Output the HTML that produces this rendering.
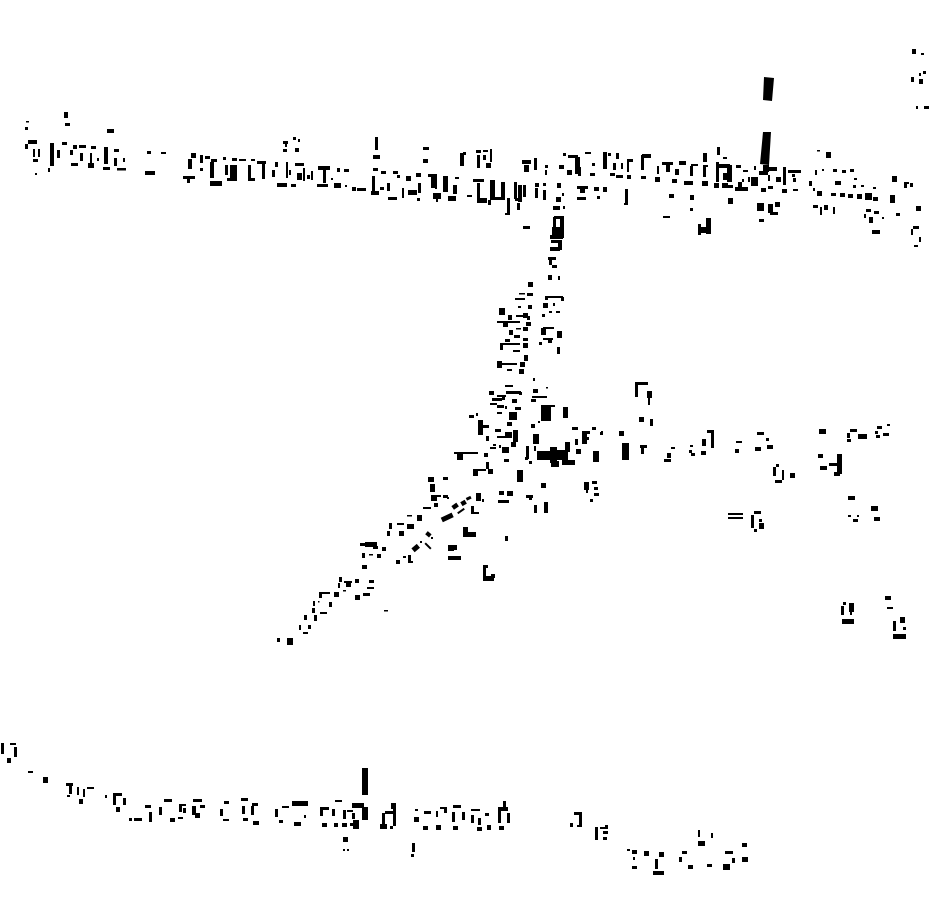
<!DOCTYPE html>
<html><head><meta charset="utf-8"><style>html,body{margin:0;padding:0;background:#fff;width:930px;height:924px;overflow:hidden}svg{display:block}</style></head>
<body><svg width="930" height="924" viewBox="0 0 930 924" xmlns="http://www.w3.org/2000/svg"><rect width="930" height="924" fill="#fff"/>
<path fill="#000" d="
M64 112h4v6h-4zM65 123h5v3h-5zM26 121h3v1.5h-3zM25 127h3v3h-3zM107 129h7v4h-7zM28 140h9v4h-9zM25 144h3v5h-3zM33 149h2v8h-2zM38 149h2v8h-2zM33 159h5v3h-5zM35 173h2v2h-2zM50 143h4v23h-4zM48 168h2v4h-2zM62 142h5v3h-5zM57 150h3v8h-3zM73 145h4v4h-4zM70 150h3v5h-3zM79 145h7v3h-7zM80 153h3v8h-3zM71 163h7v3h-7zM91 146h5v3h-5zM90 153h2v10h-2zM88 163h6v5h-6zM97 158h2v3h-2zM104 147h4v17h-4zM103 167h7v3h-7zM114 149h5v3h-5zM114 158h3v8h-3zM117 168h9v2.5h-9zM123 158h2v4h-2zM147 151h4v3h-4zM161 152h5v2h-5zM145 171h10v4h-10z
M191 153h5v5h-5zM188 159h4v10h-4zM183 176h12v3h-12zM187 179h3v4h-3zM200 155h3v8h-3zM205 156h5v3h-5zM200 168h3v3h-3zM211 159h6v3h-6zM210 162h4v16h-4zM210 181h12v5h-12zM223 157h3v3h-3zM232 158h5v3h-5zM239 159h7v2h-7zM251 159h4v2h-4zM257 161h9v3h-9zM262 163h3v16h-3zM248 178h7v3h-7zM248 165h3v13h-3zM230 165h7v13h-7zM225 165h3v10h-3zM227 178h10v3h-10zM275 162h3v5h-3zM272 170h3v7h-3zM283 141h5v3h-5zM285 144h2v3h-2zM293 137h3v3h-3zM298 139h2v3h-2zM283 149h4v3h-4zM295 148h4v4h-4zM286 162h2v16h-2zM277 183h10v4h-10zM291 184h5v3h-5zM289 170h2v5h-2zM295 163h9v3h-9zM297 173h5v7h-5zM303 168h2v13h-2zM307 175h3v4h-3z
M375 137h3v13h-3zM373 155h7v4h-7zM373 168h5v3h-5zM381 171h5v3h-5zM393 171h5v3h-5zM397 175h3v3h-3zM406 176h5v5h-5zM416 173h5v4h-5zM423 147h6v3h-6zM423 159h5v4h-5zM311 171h2v9h-2zM318 166h12v4h-12zM323 168h3v15h-3zM317 184h11v3h-11zM331 178h2v2h-2zM337 168h3v4h-3zM344 169h5v3h-5zM334 183h7v5h-7zM345 185h2v2h-2zM352 187h4v4h-4zM357 188h9v3h-9zM372 176h3v17h-3zM371 191h8v4h-8zM380 187h4v3h-4zM387 183h3v8h-3zM388 197h9v3h-9zM402 188h2v10h-2zM408 190h9v5h-9zM418 183h3v10h-3zM417 198h3v3h-3zM428 174h9v3h-9zM431 175h4v13h-4zM435 175h2v14h-2zM433 193h8v6h-8zM436 199h2v3h-2zM443 176h5v16h-5zM455 177h4v2h-4zM453 185h4v9h-4zM448 196h8v5h-8zM460 153h4v13h-4zM463 152h3v3h-3zM476 150h5v3h-5zM477 155h3v13h-3zM483 150h5v2h-5zM483 155h3v5h-3zM490 149h2v13h-2zM486 163h5v5h-5zM473 179h11v3h-11zM467 195h5v2h-5zM477 183h3v17h-3zM477 198h10v5h-10zM490 180h5v20h-5zM488 200h3v5h-3zM492 197h13v3h-13zM501 182h4v17h-4zM507 198h3v17h-3zM505 213h5v2h-5zM514 182h3v17h-3zM518 185h4v17h-4zM515 198h7v3h-7zM517 203h3v7h-3zM523 185h3v12h-3zM522 160h9v4h-9zM524 165h5v7h-5zM534 158h3v12h-3zM545 165h3v3h-3zM545 170h2v5h-2zM559 165h5v4h-5zM563 153h3v3h-3zM568 155h10v3h-10zM575 157h5v17h-5zM567 170h5v5h-5zM578 167h3v9h-3zM585 152h6v2h-6zM592 163h3v3h-3zM590 173h5v3h-5zM603 152h4v17h-4zM608 153h3v3h-3zM616 153h3v6h-3zM613 163h3v7h-3zM610 173h5v3h-5zM616 175h4v3h-4zM535 183h4v4h-4zM543 183h3v3h-3zM535 188h3v10h-3zM543 190h3v10h-3zM557 183h4v5h-4zM562 193h2v3h-2zM556 197h5v5h-5zM553 206h7v4h-7zM563 206h2v3h-2zM577 186h11v3h-11zM580 188h5v5h-5zM577 197h9v3h-9zM594 187h5v4h-5zM603 187h4v5h-4zM597 196h3v3h-3zM523 226h7v3h-7zM554 216h10v3h-10zM553 217h3v13h-3zM560 218h4v20h-4zM550 235h13v4h-13zM552 227h9v10h-9z
M912 49h4v5h-4zM921 53h3v2h-3zM923 71h3v3h-3zM919 73h2v3h-2zM911 77h3v5h-3zM919 79h4v5h-4zM916 106h2v3h-2zM924 106h5v3h-5zM627 159h6v3h-6zM627 162h2v10h-2zM621 163h2v6h-2zM620 175h3v3h-3zM627 175h4v4h-4zM642 154h9v4h-9zM641 155h3v15h-3zM641 176h5v3h-5zM662 162h11v3h-11zM657 166h2v8h-2zM666 165h4v7h-4zM675 169h4v6h-4zM679 161h7v4h-7zM655 177h5v5h-5zM672 179h5v4h-5zM691 164h7v2h-7zM690 166h3v10h-3zM684 181h9v4h-9zM703 153h4v9h-4zM703 165h5v2h-5zM703 166h3v11h-3zM702 181h6v5h-6zM717 147h3v8h-3zM723 157h4v2h-4zM716 162h3v20h-3zM717 164h13v4h-13zM727 165h5v17h-5zM723 173h4v7h-4zM714 183h5v5h-5zM722 183h6v5h-6zM728 185h5v3h-5zM736 165h5v3h-5zM743 170h5v2h-5zM754 166h2v4h-2zM735 187h13v4h-13zM738 182h4v6h-4zM742 179h2v3h-2zM748 177h2v5h-2zM751 177h7v9h-7zM763 165h6v7h-6zM768 167h9v4h-9zM759 171h9v4h-9zM768 175h2v6h-2zM776 177h5v5h-5zM783 167h3v18h-3zM788 170h13v3h-13zM792 174h3v3h-3zM793 178h3v4h-3zM761 188h5v4h-5zM768 186h5v3h-5zM782 189h5v4h-5zM793 189h5v2h-5zM625 189h3v15h-3zM624 203h4v2h-4zM669 194h5v4h-5zM690 195h4v5h-4zM690 208h3v3h-3zM663 216h7v2h-7zM728 198h5v6h-5zM757 203h7v8h-7zM768 204h5v9h-5zM770 212h8v3h-8zM775 202h5v5h-5zM759 219h5v3h-5zM706 218h5v16h-5zM698 224h3v11h-3zM699 227h10v6h-10z
M817 150h3v1.5h-3zM826 152h5v6h-5zM815 170h2v5h-2zM822 169h2v2h-2zM833 169h4v3h-4zM842 170h4v3h-4zM850 169h4v3h-4zM854 178h3v2h-3zM835 181h6v4h-6zM853 185h3v3h-3zM861 185h3v2h-3zM873 187h3v2h-3zM809 181h3v5h-3zM813 188h2v3h-2zM817 191h5v5h-5zM831 193h5v3h-5zM840 193h5v4h-5zM848 194h5v4h-5zM857 194h5v5h-5zM865 193h7v7h-7zM873 197h5v4h-5zM892 176h5v6h-5zM904 182h3v6h-3zM905 182h4v2h-4zM910 183h3v4h-3zM890 195h5v8h-5zM916 206h5v5h-5zM813 205h5v3h-5zM820 207h2v8h-2zM824 205h4v5h-4zM833 207h2v7h-2zM866 209h5v3h-5zM874 211h5v3h-5zM864 214h2v4h-2zM869 217h4v6h-4zM882 217h2v2h-2zM896 213h4v3h-4zM872 230h8v4h-8zM913 226h6v3h-6zM911 229h2v6h-2zM919 237h2v5h-2zM914 245h4v2h-4z
M558 240h4v10h-4zM550 247h10v4h-10zM551 240h8v3h-8zM548 257h8v3h-8zM549 260h3v5h-3zM552 265h5v3h-5zM548 275h4v5h-4zM558 276h2v4h-2zM528 282h5v5h-5zM519 293h6v1.5h-6zM527 293h6v3h-6zM515 298h10v2h-10zM518 306h3v2h-3zM528 305h4v4h-4zM499 308h6v7h-6zM523 313h5v5h-5zM516 315h11v2h-11zM527 316h3v4h-3zM497 321h23v2h-23zM503 322h5v5h-5zM508 315h4v5h-4zM526 322h5v4h-5zM516 328h5v1.5h-5zM523 327h5v4h-5zM509 330h4v5h-4zM514 335h6v3h-6zM505 339h5v3h-5zM523 338h5v3h-5zM523 343h5v5h-5zM500 343h3v7h-3zM503 343h17v2h-17zM513 350h7v2h-7zM524 355h4v6h-4zM497 361h5v7h-5zM502 363h15v2h-15zM520 362h5v5h-5zM507 369h5v2h-5zM519 369h5v5h-5zM545 296h18v2h-18zM545 296h3v4h-3zM561 297h3v4h-3zM543 303h5v5h-5zM553 303h2v3h-2zM549 311h3v2h-3zM556 311h4v2h-4zM542 314h3v3h-3zM541 328h5v7h-5zM543 327h11v2h-11zM557 331h5v7h-5zM543 338h10v2h-10zM548 338h4v5h-4zM539 342h3v3h-3zM557 347h3v7h-3z
M533 378h2v3h-2zM546 387h2v1.5h-2zM533 389h5v4h-5zM532 396h15v2h-15zM531 399h5v3h-5zM505 385h8v2h-8zM489 391h5v4h-5zM506 391h15v3h-15zM519 392h3v3h-3zM497 395h9v2h-9zM492 398h10v3h-10zM502 397h3v3h-3zM512 399h5v4h-5zM490 403h7v2h-7zM497 405h7v3h-7zM515 407h6v3h-6zM505 406h2v3h-2zM497 412h5v2h-5zM509 412h8v8h-8zM469 415h5v3h-5zM476 413h2v3h-2zM507 422h5v4h-5zM478 420h5v15h-5zM482 425h7v3h-7zM486 436h3v5h-3zM495 429h6v3h-6zM497 436h15v2h-15zM505 432h7v5h-7zM513 430h5v12h-5zM511 442h5v5h-5zM493 444h3v2h-3zM490 447h6v2h-6zM499 445h2v3h-2zM502 447h7v6h-7zM484 453h4v4h-4zM454 452h24v2h-24zM457 453h6v7h-6zM504 459h5v3h-5zM486 462h3v7h-3zM473 469h5v7h-5zM477 469h9v2h-9zM488 469h5v5h-5zM443 477h5v3h-5zM428 477h6v5h-6zM430 484h5v8h-5zM431 495h10v2h-10zM431 495h6v6h-6zM443 495h5v3h-5zM447 497h2v2h-2zM434 503h4v4h-4zM423 507h8v2h-8zM407 515h5v1.5h-5zM417 515h5v6h-5zM397 523h7v2h-7zM407 524h7v5h-7zM389 523h3v6h-3zM387 531h3v5h-3zM399 531h5v5h-5z
M476 493h5v8h-5zM482 499h2v3h-2zM471 506h3v8h-3zM472 512h7v2h-7zM499 491h5v4h-5zM507 491h6v5h-6zM498 500h11v3h-11zM526 495h7v3h-7zM529 497h3v3h-3zM534 505h3v8h-3zM544 502h4v11h-4zM517 470h6v12h-6zM541 483h5v5h-5zM531 424h4v4h-4zM538 421h2v2h-2zM533 434h6v10h-6zM526 446h3v13h-3zM534 446h2v5h-2zM525 457h3v3h-3zM529 461h3v3h-3zM541 405h10v16h-10zM550 405h5v2h-5zM563 407h5v11h-5zM572 427h6v3h-6zM592 427h4v3h-4zM601 431h2v4h-2zM619 431h5v5h-5zM582 431h8v3h-8zM582 431h5v13h-5zM587 437h2v3h-2zM575 439h3v6h-3zM576 449h5v5h-5zM565 442h5v10h-5zM537 451h17v9h-17zM550 447h7v16h-7zM557 450h7v10h-7zM562 450h6v12h-6zM551 461h8v6h-8zM562 460h13v5h-13zM593 451h6v11h-6zM622 443h7v17h-7zM635 382h13v3h-13zM635 384h3v13h-3zM584 482h5v8h-5zM586 490h2v3h-2zM592 481h5v3h-5zM594 487h4v3h-4zM594 493h5v3h-5zM590 499h3v3h-3z
M647 391h5v7h-5zM648 398h2v7h-2zM639 417h5v5h-5zM650 419h3v7h-3zM600 432h2v3h-2zM640 445h7v3h-7zM641 447h3v7h-3zM671 447h4v2h-4zM667 453h4v5h-4zM664 459h7v3h-7zM690 445h3v2h-3zM689 450h3v3h-3zM691 453h4v3h-4zM702 439h4v7h-4zM701 451h5v4h-5zM707 430h7v3h-7zM711 432h3v16h-3zM736 441h6v2h-6zM735 449h4v4h-4zM757 432h7v3h-7zM766 438h3v3h-3zM755 447h6v4h-6zM767 445h6v4h-6zM776 464h3v3h-3zM773 467h3v9h-3zM782 470h2v10h-2zM775 480h7v3h-7zM790 473h5v5h-5zM819 429h7v5h-7zM847 433h3v5h-3zM850 429h7v3h-7zM847 439h4v3h-4zM858 434h9v5h-9zM877 426h5v3h-5zM887 424h3v2h-3zM875 431h3v3h-3zM876 435h4v3h-4zM883 433h6v3h-6zM818 454h5v4h-5zM820 466h7v4h-7zM829 463h10v3h-10zM837 454h5v20h-5zM834 472h6v4h-6zM848 496h7v4h-7zM871 506h7v5h-7zM874 517h6v4h-6zM848 515h3v2h-3zM853 519h5v3h-5zM857 515h2v2h-2zM728 513h15v2h-15zM728 517h15v2h-15zM754 511h7v3h-7zM751 515h3v13h-3zM759 523h5v6h-5zM759 519h3v3h-3zM754 529h3v3h-3zM849 603h5v9h-5zM850 612h2v3h-2zM843 602h3v3h-3zM841 606h3v9h-3zM842 619h12v5h-12zM885 596h6v4h-6zM887 607h6v2h-6zM893 621h3v10h-3zM900 617h5v6h-5zM903 627h3v3h-3zM893 634h13v5h-13z
M505 536h3v5h-3zM463 527h5v10h-5zM467 532h9v5h-9zM448 545h9v5h-9zM448 548h6v3h-6zM448 556h13v4h-13zM483 565h5v3h-5zM483 567h3v9h-3zM483 576h11v5h-11zM491 574h4v4h-4zM431 537h2v2h-2zM403 556h3v2h-3zM408 555h3v7h-3zM408 561h5v2h-5zM396 560h4v4h-4zM420 541h2v2h-2zM360 543h17v3h-17zM365 542h12v5h-12zM373 546h5v3h-5zM382 547h4v4h-4zM362 553h3v5h-3zM369 554h4v1.5h-4zM377 554h4v4h-4zM362 565h5v4h-5zM339 577h3v5h-3zM344 581h8v2h-8zM346 583h5v4h-5zM338 583h2v5h-2zM355 579h4v4h-4zM369 580h5v3h-5zM367 587h7v2h-7zM363 593h7v3h-7zM343 590h3v1.5h-3zM355 595h5v5h-5zM319 592h11v2h-11zM319 592h3v6h-3zM334 592h5v5h-5zM313 601h2v5h-2zM318 601h1.5v1.5h-1.5zM329 602h3v5h-3zM312 608h3v5h-3zM320 612h7v2h-7zM304 615h3v5h-3zM314 615h3v6h-3zM308 625h3v4h-3zM299 625h2v5h-2zM303 632h5v2h-5zM277 638h3v4h-3zM287 638h6v7h-6zM384 610h4v1.5h-4z
M10 743h6v2h-6zM1 743h3v11h-3zM14 747h3v10h-3zM7 758h4v5h-4zM28 771h5v2h-5zM43 777h5v6h-5zM66 783h7v3h-7zM69 786h3v8h-3zM67 795h3v2h-3zM77 787h2v8h-2zM87 787h7v2h-7zM83 789h2v8h-2zM79 799h4v5h-4zM105 795h2v3h-2zM113 793h9v3h-9zM113 795h3v10h-3zM123 798h3v7h-3zM116 807h4v5h-4zM129 818h3v3h-3zM134 818h8v3h-8zM149 812h3v10h-3zM145 805h6v3h-6zM159 807h3v8h-3zM164 799h8v3h-8zM170 818h5v4h-5zM178 817h5v2h-5zM179 804h7v2h-7zM179 805h3v7h-3zM183 808h3v5h-3zM193 799h9v3h-9zM192 806h4v9h-4zM200 805h5v3h-5zM195 813h5v5h-5zM224 801h5v3h-5zM220 809h3v7h-3zM223 819h6v2h-6zM241 798h7v3h-7zM242 806h3v8h-3zM252 803h6v3h-6zM251 806h3v9h-3zM243 818h5v3h-5zM253 821h6v4h-6zM275 809h3v8h-3zM282 806h7v2h-7zM279 820h4v3h-4zM294 822h7v4h-7zM304 815h2v3h-2zM292 801h16v5h-16zM320 807h9v3h-9zM320 808h3v8h-3zM332 809h3v7h-3zM335 800h7v2h-7zM322 823h5v4h-5zM334 823h4v4h-4zM342 823h5v4h-5zM343 810h3v9h-3zM347 810h6v2h-6zM350 823h4v3h-4zM352 803h12v5h-12zM362 807h6v13h-6zM353 820h6v9h-6zM352 813h3v6h-3zM362 768h6v27h-6zM343 837h5v5h-5zM343 849h2v2h-2zM347 849h2v2h-2z
M391 803h5v6h-5zM393 808h3v18h-3zM385 811h10v3h-10zM382 813h3v13h-3zM380 824h7v5h-7zM390 826h3v3h-3zM415 809h3v2h-3zM414 817h5v5h-5zM424 811h7v3h-7zM423 826h5v4h-5zM436 811h2v6h-2zM440 807h7v2h-7zM444 808h3v5h-3zM436 825h5v5h-5zM453 805h8v3h-8zM452 812h3v10h-3zM462 812h3v8h-3zM453 826h5v4h-5zM471 809h9v2h-9zM471 815h3v8h-3zM478 818h3v7h-3zM477 827h5v4h-5zM485 813h4v3h-4zM487 825h4v5h-4zM498 807h10v4h-10zM498 808h3v15h-3zM503 801h3v7h-3zM507 813h3v10h-3zM499 826h5v4h-5zM412 843h3v9h-3zM411 854h3v3h-3zM574 812h8v3h-8zM579 813h3v13h-3zM570 823h3v4h-3zM577 825h5v2h-5zM595 827h3v13h-3zM600 827h7v2h-7zM605 825h3v4h-3zM603 831h5v3h-5zM603 837h4v3h-4zM698 830h2v7h-2zM711 833h2v5h-2zM698 841h7v5h-7zM627 849h3v2h-3zM632 850h5v4h-5zM633 857h2v3h-2zM632 866h5v3h-5zM644 851h5v5h-5zM659 852h5v5h-5zM655 859h3v10h-3zM653 871h11v4h-11zM682 851h5v3h-5zM679 857h3v5h-3zM688 865h5v4h-5zM707 864h5v3h-5zM725 851h8v3h-8zM742 843h5v4h-5zM732 858h3v5h-3zM742 857h6v5h-6zM723 864h7v6h-7z"/>
<g fill="#000">
<polygon points="764,77 774,78 772,101 763,100"/>
<polygon points="763,132 771,132 769,165 760,164"/>
<rect x="452" y="504" width="6" height="4.5" transform="rotate(-35 455 506)"/>
<rect x="457" y="510" width="8" height="2" transform="rotate(-35 461 511)"/>
<rect x="461" y="501" width="5" height="4.5" transform="rotate(-30 463 503)"/>
<rect x="466" y="497" width="5" height="3" transform="rotate(-25 468 498)"/>
<rect x="441" y="515" width="12" height="5" transform="rotate(-25 447 517)"/>
<rect x="426" y="532" width="5" height="4" transform="rotate(40 428 534)"/>
<rect x="424" y="545" width="8" height="2" transform="rotate(45 428 546)"/>
<rect x="412" y="546" width="7" height="5" transform="rotate(-40 415 548)"/>
</g></svg></body></html>
